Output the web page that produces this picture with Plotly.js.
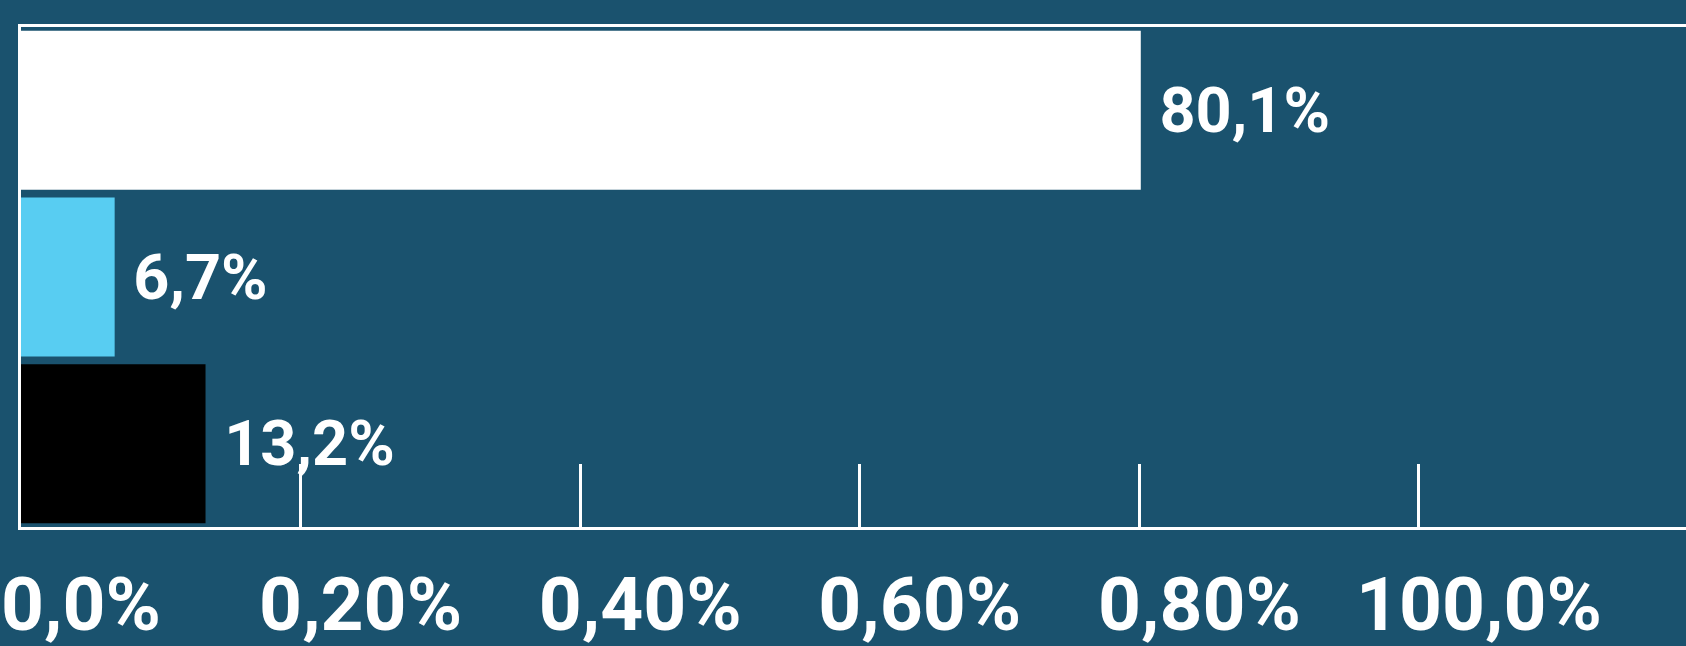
<!DOCTYPE html>
<html>
<head>
<meta charset="utf-8">
<script src="https://cdn.plot.ly/plotly-3.0.1.min.js"></script>
<style>
  html, body { margin: 0; padding: 0; background: #1a526e; }
  #chart { width: 1686px; height: 646px; }
</style>
</head>
<body>
<div id="chart"></div>
<script>
// Data
const categories = ["A", "B", "C"];
const values = [0.801, 0.067, 0.132];
const barColors = ["#ffffff", "#58cdf2", "#000000"];
const tickValues = [0, 0.2, 0.4, 0.6, 0.8, 1.0];
const tickLabels = ["0,0%", "0,20%", "0,40%", "0,60%", "0,80%", "100,0%"];

const BG = "#1a526e";
const FONT = "Roboto, 'DejaVu Sans', sans-serif";

const trace = {
  type: "bar",
  orientation: "h",
  y: categories,
  x: values,
  marker: { color: barColors, line: { width: 0 } },
  texttemplate: " %{x:.1%}",
  textposition: "outside",
  cliponaxis: false,
  textfont: { family: FONT, size: 63, color: "#ffffff", weight: "bold" },
  hoverinfo: "skip"
};

const layout = {
  width: 1686,
  height: 646,
  margin: { l: 21, r: 0, t: 27, b: 119, pad: 0 },
  paper_bgcolor: BG,
  plot_bgcolor: BG,
  separators: ", ",
  showlegend: false,
  bargap: 0.046,
  xaxis: {
    range: [0, 1.191],
    tickmode: "array",
    tickvals: tickValues,
    ticktext: tickLabels,
    ticks: "inside",
    ticklen: 63,
    tickwidth: 3,
    tickcolor: "#ffffff",
    showline: true,
    linecolor: "#ffffff",
    linewidth: 3,
    mirror: true,
    showgrid: false,
    zeroline: false,
    ticklabelshift: 60,
    ticklabelstandoff: 10,
    ticklabeloverflow: "allow",
    tickfont: { family: FONT, size: 75, color: "#ffffff", weight: "bold" },
    fixedrange: true
  },
  yaxis: {
    autorange: "reversed",
    showticklabels: false,
    ticks: "",
    showline: true,
    linecolor: "#ffffff",
    linewidth: 3,
    mirror: false,
    showgrid: false,
    zeroline: false,
    fixedrange: true
  }
};

Plotly.newPlot("chart", [trace], layout, { displayModeBar: false, staticPlot: true });
</script>
</body>
</html>
